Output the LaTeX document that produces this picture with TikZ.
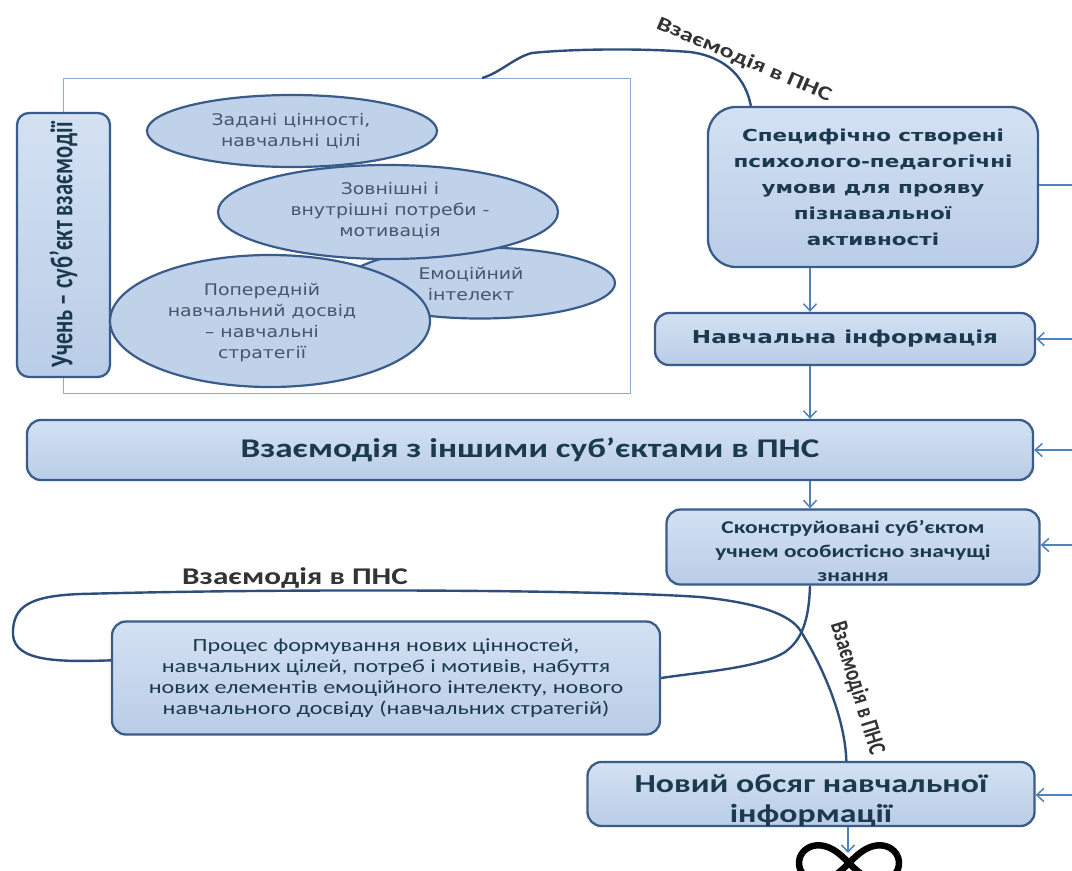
\documentclass[tikz,border=0pt]{standalone}
\usepackage{fontspec}
\usepackage{graphicx}
\setmainfont{Carlito}
\newfontfamily\cb[FakeStretch=1.3]{Carlito}
\newfontfamily\dvw[FakeStretch=1.3]{DejaVu Sans}
\newfontfamily\dve[FakeStretch=1.18]{DejaVu Sans}
\usetikzlibrary{arrows.meta,shapes.geometric,calc}
\definecolor{boxtop}{HTML}{D3E1F2}
\definecolor{boxbot}{HTML}{BACDE7}
\definecolor{bordc}{HTML}{3A5C8A}
\definecolor{arrc}{HTML}{4F81BD}
\definecolor{framec}{HTML}{8FAAD2}
\definecolor{curvec}{HTML}{2E4F7D}
\definecolor{txt}{HTML}{1B3A4D}
\definecolor{etxt}{HTML}{46566A}
\tikzset{
  box/.style={draw=bordc, line width=2.3pt, rounded corners=14pt, top color=boxtop, bottom color=boxbot, text=txt, align=center, inner sep=2pt},
  ell/.style={ellipse, draw=bordc, line width=2.2pt, fill=boxbot!75!boxtop, inner sep=0pt},
  etext/.style={text=etxt, align=center, inner sep=0pt, font={\dve\fontsize{16}{21}\selectfont}},
  btext/.style={text=txt, align=center, inner sep=0pt},
  arr/.style={draw=arrc, line width=1.5pt, -{Straight Barb[length=7pt,width=13pt,line width=1.5pt]}},
  curve/.style={draw=curvec, line width=2.4pt},
  lbl/.style={text=black!80, inner sep=0pt}
}
\begin{document}
\begin{tikzpicture}[x=1pt,y=-1pt]
\useasboundingbox (0,0) rectangle (1072,871);
\clip (0,0) rectangle (1072,871);
\fill[white] (0,0) rectangle (1072,871);

% outer frame
\node[draw=framec, line width=1.3pt, minimum width=567pt, minimum height=315pt, anchor=north west, inner sep=0pt] (frame) at (63,78) {};

% vertical box
\node[box, rounded corners=12pt, minimum width=93pt, minimum height=264pt] (vb) at (63.5,245) {};
\node[rotate=90, text=txt, inner sep=0pt] (vbt) at (vb.center) {\scalebox{1}[1.4]{\fontsize{22.5}{22.5}\selectfont\bfseries Учень – суб’єкт взаємодії}};

% ellipses
\node[ell, minimum width=290pt, minimum height=72pt] (e1) at (292,131) {};
\node[etext] (e1t) at (291,131) {Задані цінності,\\навчальні цілі};
\node[ell, minimum width=270pt, minimum height=71pt] (e3) at (480,283) {};
\node[etext] (e3t) at (471,284) {Емоційний\\інтелект};
\node[ell, minimum width=340pt, minimum height=94pt] (e2) at (388,212) {};
\node[etext] (e2t) at (390,211) {Зовнішні і\\внутрішні потреби -\\мотивація};
\node[ell, minimum width=320pt, minimum height=132pt] (e4) at (270,321) {};
\node[etext] (e4t) at (262,323) {Попередній\\навчальний досвід\\– навчальні\\стратегії};

% right column boxes
\node[box, rounded corners=28pt, minimum width=330pt, minimum height=160pt, font={\dvw\bfseries\fontsize{16.5}{26}\selectfont}] (b1) at (873,187) {Специфічно створені\\психолого-педагогічні\\умови для прояву\\пізнавальної\\активності};
\node[box, minimum width=380pt, minimum height=52pt, font={\dvw\bfseries\fontsize{17.8}{22}\selectfont}] (b2) at (845,339) {Навчальна інформація};
\node[box, minimum width=1006pt, minimum height=60pt, font={\cb\bfseries\fontsize{27}{30}\selectfont}] (b3) at (530,450) {Взаємодія з іншими суб’єктами в ПНС};
\node[box, minimum width=373pt, minimum height=75pt] (b4) at (853,547) {};
\node[btext, font={\cb\bfseries\fontsize{18}{24}\selectfont}] (b4t) at (853,551) {Сконструйовані суб’єктом\\учнем особистісно значущі\\знання};
\node[box, minimum width=548pt, minimum height=113pt, font={\cb\fontsize{18.5}{21}\selectfont}] (b5) at (386,678) {Процес формування нових цінностей,\\навчальних цілей, потреб і мотивів, набуття\\нових елементів емоційного інтелекту, нового\\навчального досвіду (навчальних стратегій)};
\node[box, minimum width=447pt, minimum height=64pt] (b6) at (811,794) {};
\node[btext, font={\cb\bfseries\fontsize{26}{30}\selectfont}] (b6t) at (811,801) {Новий обсяг навчальної\\інформації};

% vertical arrows
\coordinate (xa) at (810,0);
\coordinate (xb) at (848,0);
\draw[arr] (b1.south -| xa) -- (b2.north -| xa);
\draw[arr] (b2.south -| xa) -- (b3.north -| xa);
\draw[arr] (b3.south -| xa) -- (b4.north -| xa);
\coordinate (inf) at (848,853);
\draw[arr] (b6.south -| xb) -- (inf);

% right edge feedback lines
\coordinate (r1) at (1072,185);
\coordinate (r2) at (1072,339);
\coordinate (r3) at (1072,450);
\coordinate (r4) at (1072,545);
\coordinate (r6) at (1072,795);
\draw[draw=arrc, line width=1.5pt] (b1.east |- r1) -- (r1);
\draw[arr] (r2) -- (b2.east |- r2);
\draw[arr] (r3) -- (b3.east |- r3);
\draw[arr] (r4) -- (b4.east |- r4);
\draw[arr] (r6) -- (b6.east |- r6);

% top curve
\coordinate (t0) at (482,78);
\draw[curve] (t0) .. controls (500,73) and (515,57) .. (532,53)
  .. controls (570,49) and (640,48) .. (690,52)
  .. controls (728,57) and (746,80) .. ($(b1.north west)+(44,0)$);
\node[lbl, rotate=-23] (lt) at (744,60) {\cb\bfseries\fontsize{20}{20}\selectfont Взаємодія в ПНС};

% bottom loop curve
\draw[curve] ($(b5.north west)+(0,40)$) .. controls (60,662) and (15,662) .. (13,635)
  .. controls (12,606) and (30,596) .. (80,594)
  .. controls (300,588) and (600,590) .. (700,597)
  .. controls (760,603) and (790,615) .. (800,630)
  .. controls (825,670) and (845,720) .. ($(b6.north west)+(260,0)$);
\draw[curve] (b4.south -| xa) .. controls (809,620) and (802,640) .. (785,652)
  .. controls (760,668) and (700,672) .. (b5.east);
\node[lbl] (lb) at (295,578) {\cb\bfseries\fontsize{24}{24}\selectfont Взаємодія в ПНС};
\node[lbl, rotate=-73] (lv) at (857,688) {\scalebox{1}[1.3]{\fontsize{19}{19}\selectfont\bfseries Взаємодія в ПНС}};

% infinity
\draw[black, line width=6.5pt, domain=0:360, samples=120, smooth, variable=\t]
  plot ({849+50*cos(\t)/(1+sin(\t)^2)}, {863+50*sin(\t)*cos(\t)/(1+sin(\t)^2)});
\end{tikzpicture}
\end{document}
